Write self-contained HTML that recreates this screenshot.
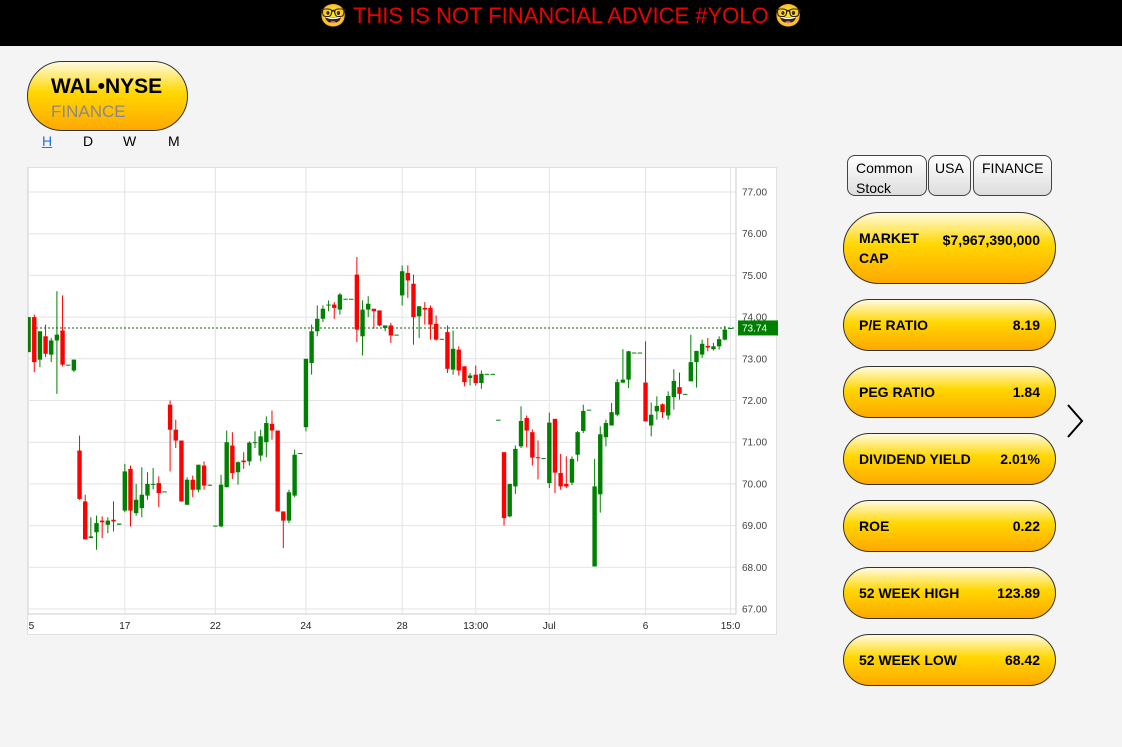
<!DOCTYPE html>
<html><head><meta charset="utf-8">
<style>
body{margin:0;width:1122px;height:747px;background:#f4f4f4;font-family:"Liberation Sans",sans-serif;position:relative;overflow:hidden}
#hdr{position:absolute;left:0;top:0;width:1122px;height:46px;background:#000;color:#e00;font-size:22px;text-align:center;line-height:32px}
.gold{background:linear-gradient(#fffbe0 0%,#ffd700 45%,#ffa800 100%);border:1px solid #333;box-sizing:border-box}
#tick{position:absolute;left:27px;top:61px;width:161px;height:70px;border-radius:35px}
#tick .s{position:absolute;left:23px;top:13px;font-weight:bold;font-size:21px}
#tick .f{position:absolute;left:23px;top:40px;font-size:17px;color:#888}
.tf{position:absolute;top:133px;font-size:14px}
.tag{position:absolute;top:155px;height:41px;border:1px solid #444;border-radius:8px;background:linear-gradient(#fff,#ddd);box-sizing:border-box;font-size:14px;padding:2px 8px;line-height:20px}
.pill{position:absolute;left:843px;width:213px;border-radius:26px;font-weight:bold;font-size:14px}
.pill .l{position:absolute;left:15px;top:50%;transform:translateY(-50%);line-height:20px}
.pill .v{position:absolute;right:15px;top:50%;transform:translateY(-50%)}
#chart{position:absolute;left:27px;top:167px;width:750px;height:468px;background:#fff;border:1px solid #e0e0e0;box-sizing:border-box}
</style></head><body>
<div id="hdr">🤓 THIS IS NOT FINANCIAL ADVICE #YOLO 🤓</div>
<div id="tick" class="gold"><span class="s">WAL•NYSE</span><span class="f">FINANCE</span></div>
<span class="tf" style="left:42px;color:#1a73e8;text-decoration:underline">H</span>
<span class="tf" style="left:83px">D</span>
<span class="tf" style="left:123px">W</span>
<span class="tf" style="left:168px">M</span>
<div class="tag" style="left:847px;width:80px">Common Stock</div>
<div class="tag" style="left:928px;width:43px;padding:2px 6px">USA</div>
<div class="tag" style="left:973px;width:79px">FINANCE</div>
<div class="pill gold" style="top:212px;height:72px;border-radius:36px"><span class="l">MARKET<br>CAP</span><span class="v" style="top:27px">$7,967,390,000</span></div>
<div class="pill gold" style="top:299px;height:52px"><span class="l">P/E RATIO</span><span class="v">8.19</span></div>
<div class="pill gold" style="top:366px;height:52px"><span class="l">PEG RATIO</span><span class="v">1.84</span></div>
<div class="pill gold" style="top:433px;height:52px"><span class="l">DIVIDEND YIELD</span><span class="v">2.01%</span></div>
<div class="pill gold" style="top:500px;height:52px"><span class="l">ROE</span><span class="v">0.22</span></div>
<div class="pill gold" style="top:567px;height:52px"><span class="l">52 WEEK HIGH</span><span class="v">123.89</span></div>
<div class="pill gold" style="top:634px;height:52px"><span class="l">52 WEEK LOW</span><span class="v">68.42</span></div>
<svg style="position:absolute;left:1064px;top:403px" width="22" height="36"><polyline points="4,2 18,18 4,34" fill="none" stroke="#000" stroke-width="2"/></svg>
<div id="chart"><svg id="svg" width="750" height="468"></svg></div>
<script>
const opens=[73.16,74.0,72.98,73.54,73.1,73.44,73.68,72.86,72.72,70.8,69.58,68.7,68.84,69.12,69.02,69.14,69.02,69.36,70.36,69.3,69.42,69.72,70.0,70.02,69.82,71.9,71.3,71.04,69.5,70.1,69.86,70.44,69.96,69.0,68.98,69.92,70.92,70.28,70.56,70.54,70.99,70.68,71.0,71.44,71.28,69.34,69.12,69.72,70.74,71.36,72.9,73.66,73.96,74.3,74.3,74.18,74.44,74.44,75.02,73.54,74.18,74.2,74.16,73.74,73.8,73.58,74.52,75.06,74.8,74.02,74.22,74.22,73.84,73.48,73.64,72.74,73.22,72.82,72.54,72.62,72.42,72.64,72.64,71.54,70.76,69.22,69.94,70.9,71.58,71.24,70.64,70.62,70.02,71.56,70.26,70.0,70.03,70.7,71.27,71.78,68.02,69.75,71.12,71.4,71.66,72.43,72.5,73.15,73.15,72.43,71.4,71.74,71.91,71.64,72.08,72.32,72.16,72.46,72.92,73.1,73.31,73.23,73.3,73.46,73.74];
const highs=[74.0,74.06,73.66,73.82,73.5,74.62,74.52,72.86,72.98,71.16,69.74,69.2,69.24,69.22,69.2,69.58,69.05,70.48,70.44,70.0,70.4,70.28,70.38,70.18,69.82,72.0,71.54,71.04,70.16,70.2,70.46,70.54,69.98,69.0,70.22,71.28,71.24,70.54,70.76,71.02,71.26,71.3,71.62,71.76,71.28,69.34,69.86,70.82,70.74,73.0,73.82,74.28,74.28,74.4,74.36,74.58,74.44,74.44,75.44,74.4,74.5,74.2,74.16,73.8,73.86,73.58,75.24,75.24,75.02,74.26,74.36,74.28,74.04,73.48,73.8,73.68,73.3,72.82,72.66,72.84,72.72,72.64,72.64,71.54,70.76,70.0,70.92,71.86,71.64,71.31,71.04,70.62,71.71,71.56,70.72,70.66,70.66,71.27,71.9,71.78,70.6,71.38,71.54,71.94,72.51,73.23,73.19,73.15,73.15,73.42,71.95,72.1,71.93,72.22,72.75,72.67,72.16,73.58,73.19,73.46,73.5,73.38,73.54,73.79,73.74];
const lows=[73.16,72.68,72.8,73.04,72.92,72.16,72.82,72.86,72.68,69.62,68.67,68.7,68.42,68.7,68.82,68.86,69.02,69.32,68.98,69.24,69.2,69.62,69.87,69.44,69.82,70.3,70.86,69.58,69.5,69.68,69.8,69.86,69.96,69.0,68.96,69.92,70.12,69.98,70.36,70.44,70.86,70.54,70.64,71.06,69.34,68.46,69.06,69.68,70.74,71.26,72.62,73.54,73.88,74.14,73.96,74.06,74.44,74.44,73.4,73.08,74.0,73.72,73.78,73.66,73.38,73.58,74.28,74.46,73.34,73.5,73.82,73.46,73.44,73.48,72.66,72.62,72.6,72.34,72.36,72.36,72.28,72.64,72.64,71.54,69.0,69.2,69.76,70.86,70.88,70.44,70.11,70.62,69.9,69.78,69.86,69.9,69.97,70.54,71.22,71.78,68.02,69.31,70.9,71.4,71.62,72.42,72.3,73.15,73.15,71.5,71.14,71.54,71.58,71.54,71.78,72.02,72.16,72.46,72.31,73.02,73.18,73.2,73.22,73.44,73.74];
const closes=[74.0,72.92,73.66,73.12,73.44,73.58,72.86,72.86,72.98,69.64,68.67,68.74,69.06,69.08,69.12,69.1,69.05,70.3,69.36,69.62,69.74,70.0,70.0,69.78,69.82,71.3,71.04,69.58,70.1,69.86,70.46,69.96,69.98,69.0,69.98,71.0,70.26,70.52,70.52,70.99,71.0,71.14,71.46,71.28,69.34,69.12,69.8,70.7,70.74,73.0,73.66,73.96,74.2,74.3,74.22,74.54,74.44,74.44,73.7,74.18,74.32,74.14,73.8,73.8,73.56,73.58,75.1,74.88,74.0,74.26,74.18,73.82,73.46,73.48,72.76,73.24,72.72,72.44,72.6,72.42,72.64,72.64,72.64,71.54,69.18,70.0,70.84,71.51,71.28,70.63,70.62,70.62,71.47,70.27,69.94,69.94,70.6,71.24,71.75,71.78,69.94,71.19,71.46,71.72,72.44,72.5,73.18,73.15,73.15,71.5,71.66,71.87,71.72,72.11,72.47,72.16,72.16,72.92,73.19,73.36,73.27,73.3,73.47,73.7,73.74];
const priceTicks=[67,68,69,70,71,72,73,74,75,76,77];
const timeLabels=["5","17","22","24","28","13:00","Jul","6","15:0"];
const timeLabelIdx=[0,17,33,49,66,79,92,109,124];
const lastPrice=73.74;
const NS="http://www.w3.org/2000/svg";
const svg=document.getElementById('svg');
const X0=0.6,DX=5.66;
function xs(i){return X0+i*DX;}
function ys(p){return 24+(77-p)*41.7;}
function mk(t,a){const e=document.createElementNS(NS,t);for(const k in a)e.setAttribute(k,a[k]);svg.appendChild(e);return e;}
priceTicks.forEach(p=>{
  const l=mk('line',{x1:0,x2:708,y1:ys(p),y2:ys(p),stroke:'#e3e3e8','stroke-width':1});
  
  
  const t=mk('text',{x:714,y:ys(p)+3.5,'font-size':10,fill:'#444','font-family':'Liberation Sans, sans-serif'});
  t.textContent=p.toFixed(2);
  
  
});
timeLabels.forEach((s,k)=>{
  const x=xs(timeLabelIdx[k]);
  const l=mk('line',{x1:x,x2:x,y1:0,y2:446,stroke:'#e3e3e8','stroke-width':1});
  
  
  const t=mk('text',{x:x,y:461,'font-size':10,fill:'#222','text-anchor':k==0?'start':'middle','font-family':'Liberation Sans, sans-serif'});
  t.textContent=s;
  
  
});
const ax=mk('line',{x1:0,x2:708,y1:446,y2:446,stroke:'#ccc','stroke-width':1});


const ay=mk('line',{x1:708,x2:708,y1:0,y2:446,stroke:'#ccc','stroke-width':1});


const dl=mk('line',{x1:0,x2:708,y1:ys(lastPrice),y2:ys(lastPrice),stroke:'#006400','stroke-width':1,'stroke-dasharray':'2,2'});


opens.forEach((o,i)=>{
  const c=closes[i],col=c>=o?'#008000':'#ff0000',x=xs(i);
  const w=mk('line',{x1:x,x2:x,y1:ys(highs[i]),y2:ys(lows[i]),stroke:col,'stroke-width':1});
  
  
  const top=ys(Math.max(o,c)),h=Math.max(1,ys(Math.min(o,c))-top);
  const b=mk('rect',{x:x-2.2,y:top,width:4.4,height:h,fill:col});
  
  
});
const lb=mk('rect',{x:710,y:ys(lastPrice)-7.5,width:40,height:15,fill:'#008000'});


const lt=mk('text',{x:714,y:ys(lastPrice)+3.5,'font-size':10,fill:'#fff','font-family':'Liberation Sans, sans-serif'});
lt.textContent=lastPrice.toFixed(2);


</script>
</body></html>
